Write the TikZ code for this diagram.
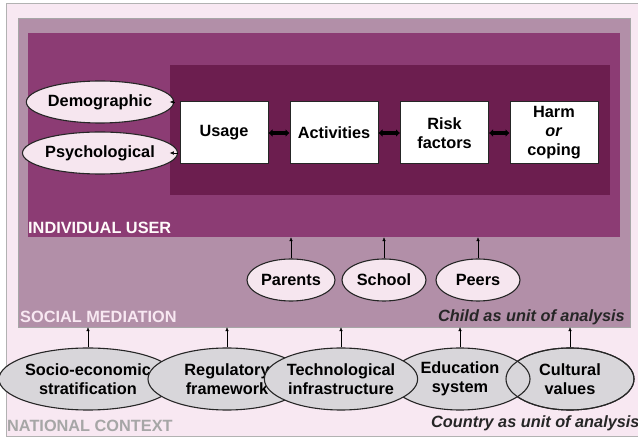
\documentclass[tikz,border=0pt]{standalone}
\usepackage{fontspec}
\setmainfont{Liberation Sans}
\usepackage{tikz}
\usetikzlibrary{shapes.geometric,arrows.meta}
\definecolor{natbg}{HTML}{F8E8F2}
\definecolor{socbg}{HTML}{B28FA8}
\definecolor{userbg}{HTML}{8C3C74}
\definecolor{corebg}{HTML}{6C1E4F}
\definecolor{oval}{HTML}{F6E6EF}
\definecolor{grayoval}{HTML}{D8D6DA}

\begin{document}
\begin{tikzpicture}[x=1pt,y=-1pt,>={Latex[length=4pt,width=3.5pt]},
    font=\fontsize{16.3}{19}\selectfont\bfseries,
    box/.style={rectangle, draw=black!85, line width=1pt, fill=white, minimum width=88pt, minimum height=62pt, inner sep=0pt, align=center},
    pinkoval/.style={ellipse, draw=black!85, line width=1.1pt, fill=oval, inner sep=0pt, minimum height=42pt},
    grayoval/.style={ellipse, draw=black!85, line width=1.1pt, fill=grayoval, inner sep=0pt, minimum height=62pt, align=center},
    link/.style={{Latex[length=4pt,width=8pt]}-{Latex[length=4pt,width=8pt]}, line width=3.5pt},
    tag/.style={inner sep=0pt, anchor=base west}]
        \useasboundingbox (0,0) rectangle (638,438);
        \fill[white] (0,0) rectangle (638,438);
        \filldraw[fill=natbg, draw=black!30] (6,3) rectangle (660,436);

        % boxes
        \node (social) at (324,172.5) [rectangle, draw=black!35, fill=socbg, minimum width=612pt, minimum height=309pt] {};
        \node (user) at (324,135) [rectangle, fill=userbg, minimum width=592pt, minimum height=204pt] {};
        \node (core) at (390,130) [rectangle, fill=corebg, minimum width=440pt, minimum height=130pt] {};
        \node (b1) at (224,133) [box] {Usage};
        \node (b2) at (334,133) [box] {Activities};
        \node (b3) at (444.5,133) [box] {Risk\\factors};
        \node (b4) at (554,133) [box] {Harm\\\textit{or}\\coping};
        \draw[link] (b1)--(b2);
        \draw[link] (b2)--(b3);
        \draw[link] (b3)--(b4);

        \node (e1) at (100,102) [pinkoval, minimum width=124pt] {Demographic};
        \node (e2) at (100,153) [pinkoval, minimum width=124pt] {Psychological};
        \draw[->] (e1.east)--(e1.east -| core.west);
        \draw[->] (e2.east)--(e2.east -| core.west);

        \node (m1) at (291,280) [pinkoval, minimum width=88pt] {Parents};
        \node (m2) at (384,280) [pinkoval, minimum width=84pt] {School};
        \node (m3) at (478,280) [pinkoval, minimum width=84pt] {Peers};
        \draw[->] (m1.north)--(m1.north |- user.south);
        \draw[->] (m2.north)--(m2.north |- user.south);
        \draw[->] (m3.north)--(m3.north |- user.south);

        \node (n1) at (88,379) [grayoval, minimum width=153pt] {Socio-economic\\stratification};
        \node (n2) at (227,379) [grayoval, minimum width=158pt] {Regulatory\\framework};
        \node (n5) at (570,379) [grayoval, minimum width=128pt] {Cultural\\values};
        \node (n4) at (460,379) [grayoval, minimum width=140pt] {Education\\system};
        \node (n3) at (341,379) [grayoval, minimum width=148pt] {Technological\\infrastructure};
        \draw[black!85, line width=1.1pt] (n5.center) ellipse [x radius=64pt, y radius=31pt];
        \draw[->] (n1.north)--(n1.north |- social.south);
        \draw[->] (n2.north)--(n2.north |- social.south);
        \draw[->] (n3.north)--(n3.north |- social.south);
        \draw[->] (n4.north)--(n4.north |- social.south);
        \draw[->] (n5.north)--(n5.north |- social.south);

        % labels
        \node (l1) at (28,234) [tag, text=white!92!pink] {INDIVIDUAL USER};
        \node (l2) at (20,323) [tag, text=natbg] {SOCIAL MEDIATION};
        \node (l3) at (7,432) [tag, text=black!35] {NATIONAL CONTEXT};
        \node (l4) at (625,322) [inner sep=0pt, anchor=base east, text=black!85] {\itshape Child as unit of analysis};
        \node (l5) at (431,428) [tag, text=black!85] {\itshape Country as unit of analysis};

    \end{tikzpicture}
\end{document}
